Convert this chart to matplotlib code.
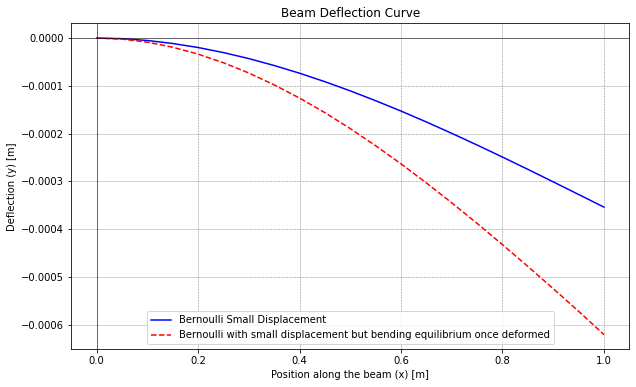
import numpy as np
import matplotlib.pyplot as plt

# Position along the beam [m]
x = [0.0, 0.05, 0.1, 0.15, 0.2, 0.25, 0.3, 0.35, 0.4, 0.45, 0.5,
     0.55, 0.6, 0.65, 0.7, 0.75, 0.8, 0.85, 0.9, 0.95, 1.0]

# Deflection, small displacement [m]
y_small = [0.0, -1.3e-6, -5.1e-6, -1.14e-5, -1.98e-5, -3.04e-5, -4.30e-5,
           -5.75e-5, -7.36e-5, -9.14e-5, -1.106e-4, -1.312e-4, -1.529e-4,
           -1.757e-4, -1.995e-4, -2.240e-4, -2.492e-4, -2.749e-4, -3.011e-4,
           -3.275e-4, -3.54e-4]

# Deflection, equilibrium on deformed shape [m]
y_deformed = [0.0, -2.2e-6, -8.6e-6, -1.92e-5, -3.37e-5, -5.17e-5, -7.32e-5,
              -9.8e-5, -1.257e-4, -1.563e-4, -1.896e-4, -2.255e-4, -2.634e-4,
              -3.034e-4, -3.45e-4, -3.881e-4, -4.326e-4, -4.782e-4, -5.248e-4,
              -5.72e-4, -6.21e-4]

fig = plt.figure(figsize=(636 / 72, 387 / 72), dpi=72)
ax = fig.add_subplot(111)
ax.plot(x, y_small, label='Bernoulli Small Displacement', color='blue')
ax.plot(x, y_deformed, '--',
        label='Bernoulli with small displacement but bending equilibrium once deformed',
        color='red')
ax.axhline(0, color='black', linewidth=0.5)
ax.axvline(0, color='black', linewidth=0.5)
ax.set_title("Beam Deflection Curve")
ax.set_xlabel("Position along the beam (x) [m]")
ax.set_ylabel("Deflection (y) [m]")
ax.legend(loc='lower center')
ax.grid(True, color='gray', linestyle='--', linewidth=0.5)
fig.subplots_adjust(left=0.112, right=0.9895, top=0.94, bottom=0.097)
fig.savefig("out.png", dpi=72)
